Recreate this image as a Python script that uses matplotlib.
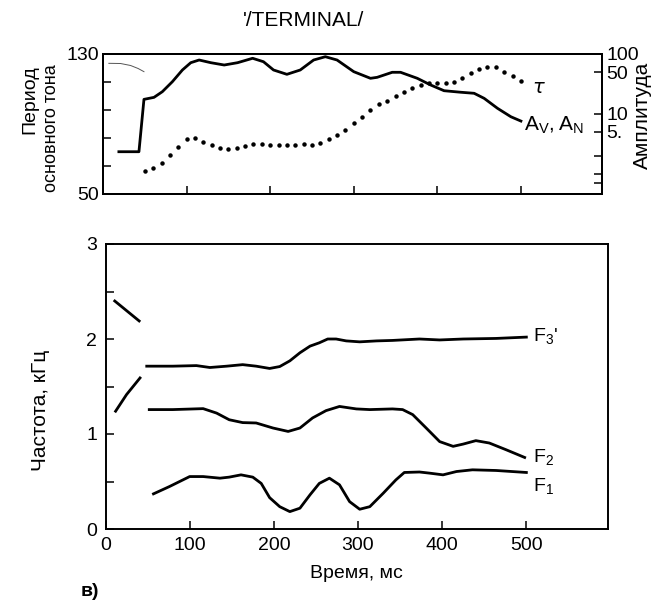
import matplotlib
matplotlib.use("Agg")
import matplotlib.pyplot as plt
from matplotlib.ticker import FixedLocator, NullLocator

plt.rcParams["font.family"] = ["Liberation Sans Narrow", "Liberation Sans", "DejaVu Sans"]

# --- top panel: amplitude A_V,A_N (solid, log right axis) ---
amp_t = [19, 43, 49, 61, 71, 83, 95, 105, 115, 129, 145, 161, 179, 192, 204, 220,
         236, 252, 266, 280, 300, 320, 328, 346, 356, 376, 392, 408, 428, 444, 456,
         472, 488, 500]
amp_v = [2.34, 2.34, 17.5, 18.9, 23.5, 34.5, 54.1, 71.6, 79.4, 71.6, 65.5, 71.6,
         84.8, 74.3, 54.1, 45.8, 54.1, 79.4, 90.1, 79.4, 50.7, 39.3, 40.8, 49.5,
         49.5, 39.3, 30.4, 24.4, 23.0, 22.1, 18.2, 12.4, 8.97, 7.6]

# thin stray trace at top-left
trace_t = [7, 21, 33, 42, 49]
trace_v = [69.9, 69.4, 64.3, 57.3, 50.7]

# --- top panel: pitch period tau (dotted, left axis) ---
tau_t = list(range(50, 501, 10))
tau_v = [63.1, 64.5, 67.3, 72.1, 76.8, 81.1, 81.7, 79.7, 77.8, 75.9, 75.5, 75.9,
         77.2, 78.2, 78.2, 77.6, 77.6, 77.8, 78.0, 78.2, 77.6, 79.1, 81.4, 83.5,
         86.4, 90.3, 93.7, 97.9, 101.3, 103.2, 105.9, 108.0, 110.3, 112.2, 113.5,
         113.5, 113.5, 113.8, 116.4, 118.9, 121.4, 122.7, 122.4, 119.9, 117.4, 114.5]

# --- bottom panel: formants, kHz ---
f3a_t = [11, 40]
f3a_v = [2.40, 2.19]
f2a_t = [12, 25, 41]
f2a_v = [1.24, 1.415, 1.59]

f3_t = [49, 80, 108, 124, 144, 163, 179, 195, 207, 219, 231, 243, 254, 264, 274,
        286, 302, 322, 341, 373, 397, 425, 464, 500]
f3_v = [1.714, 1.714, 1.72, 1.70, 1.714, 1.73, 1.714, 1.69, 1.71, 1.77, 1.855,
        1.925, 1.96, 2.00, 2.00, 1.98, 1.97, 1.98, 1.985, 2.00, 1.99, 2.00, 2.006, 2.02]

f2_t = [52, 80, 116, 132, 147, 163, 179, 199, 217, 231, 246, 262, 278, 298, 314,
        341, 353, 365, 381, 397, 413, 425, 440, 456, 476, 498]
f2_v = [1.257, 1.257, 1.267, 1.22, 1.15, 1.12, 1.116, 1.063, 1.027, 1.063, 1.169,
        1.246, 1.29, 1.264, 1.257, 1.264, 1.257, 1.204, 1.063, 0.92, 0.87, 0.894,
        0.93, 0.905, 0.834, 0.753]

f1_t = [57, 76, 100, 116, 136, 147, 161, 175, 185, 195, 207, 219, 231, 243, 254,
        266, 278, 290, 302, 314, 330, 345, 355, 373, 385, 401, 417, 436, 464, 500]
f1_v = [0.37, 0.447, 0.552, 0.552, 0.535, 0.546, 0.57, 0.546, 0.48, 0.33, 0.235,
        0.183, 0.219, 0.36, 0.48, 0.535, 0.465, 0.288, 0.208, 0.235, 0.377, 0.517,
        0.595, 0.6, 0.588, 0.57, 0.605, 0.623, 0.616, 0.595]

X_TICKS = [0, 100, 200, 300, 400, 500]
X_MAX = 597

W, H = 668, 604
fig = plt.figure(figsize=(W / 100, H / 100), dpi=100)


def box(l, t, r, b):
    return [l / W, 1 - b / H, (r - l) / W, (b - t) / H]


def frame(ax, lw=1.4):
    for s in ax.spines.values():
        s.set_linewidth(lw)


# top panel
ax = fig.add_axes(box(103, 54, 602, 193.5))
ax.plot(tau_t, tau_v, ls="none", marker="o", ms=2.2, color="black")
ax.set_xlim(0, X_MAX)
ax.set_ylim(50, 130)
ax.set_yticks([50, 66, 82, 98, 114, 130])
ax.set_yticklabels(["50", "", "", "", "", "130"])
ax.set_xticks(X_TICKS[1:])
ax.set_xticklabels([])
ax.tick_params(direction="in", length=6, width=1.1, labelsize=14, pad=3)
frame(ax)

ax2 = ax.twinx()
ax2.plot(amp_t, amp_v, color="black", lw=2.0)
ax2.plot(trace_t, trace_v, color="#555555", lw=0.7)
ax2.set_yscale("log")
ax2.set_ylim(0.47, 100)
ax2.yaxis.set_major_locator(FixedLocator([100, 50, 10, 5, 2, 1, 0.7]))
ax2.yaxis.set_minor_locator(NullLocator())
ax2.set_yticklabels(["100", "50", "10", "5.", "", "", ""])
ax2.tick_params(direction="in", length=6, width=1.1, labelsize=14, pad=3)
frame(ax2)

ax.text(513, 110.5, r"$\tau$", fontsize=14, ha="left", va="center")
ax.text(504, 89, r"$\mathregular{A_V,A_N}$", fontsize=15, ha="left", va="center")

fig.text(30 / W, 1 - 100 / H, "Период", rotation=90, fontsize=14,
         ha="center", va="center")
fig.text(51 / W, 1 - 128 / H, "основного тона", rotation=90, fontsize=13,
         ha="center", va="center")
fig.text(642 / W, 1 - 115 / H, "Амплитуда", rotation=90, fontsize=15,
         ha="center", va="center")
fig.text(304 / W, 1 - 21 / H, "'/TERMINAL/", fontsize=15, ha="center", va="center")

# bottom panel
bx = fig.add_axes(box(105.5, 244, 608, 529))
for t, v in [(f3a_t, f3a_v), (f2a_t, f2a_v), (f3_t, f3_v), (f2_t, f2_v), (f1_t, f1_v)]:
    bx.plot(t, v, color="black", lw=2.0)
bx.set_xlim(0, X_MAX)
bx.set_ylim(0, 3)
bx.set_yticks([0, 0.5, 1, 1.5, 2, 2.5, 3])
bx.set_yticklabels(["0", "", "1", "", "2", "", "3"])
bx.set_xticks(X_TICKS)
bx.set_xticklabels([str(v) for v in X_TICKS])
bx.tick_params(direction="in", length=6, width=1.1, labelsize=14, pad=6)
frame(bx)

bx.text(508, 2.03, r"$\mathregular{F_3}$'", fontsize=14, ha="left", va="center")
bx.text(508, 0.76, r"$\mathregular{F_2}$", fontsize=14, ha="left", va="center")
bx.text(508, 0.45, r"$\mathregular{F_1}$", fontsize=14, ha="left", va="center")

fig.text(40 / W, 1 - 410 / H, "Частота, кГц", rotation=90, fontsize=15,
         ha="center", va="center")
fig.text(356 / W, 1 - 573 / H, "Время, мс", fontsize=14, ha="center", va="center")
fig.text(90 / W, 1 - 592 / H, "в)", fontsize=14, fontweight="bold",
         ha="center", va="center")

fig.savefig("out.png", dpi=100)
